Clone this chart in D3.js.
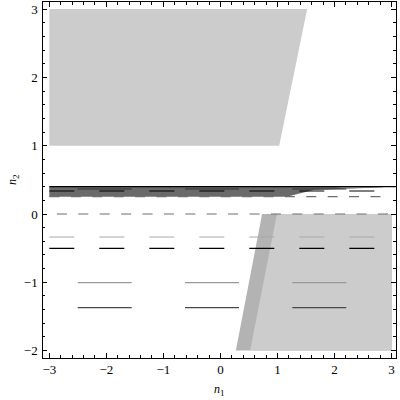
<!DOCTYPE html>
<html><head><meta charset="utf-8">
<script src="https://cdn.jsdelivr.net/npm/d3@7"></script>
<style>body{margin:0;background:#fff}</style>
</head><body>
<svg id="c" width="400" height="400"></svg>
<script>
// ---- data ----
const xTickValues = [-3, -2, -1, 0, 1, 2, 3];
const yTickValues = [-2, -1, 0, 1, 2, 3];
const xLabel = "n";
const xLabelSub = "1";
const yLabel = "n";
const yLabelSub = "2";
// filled regions (x, y) in data units
const upperRegion = [[-3, 1], [1.03, 1], [1.52, 3], [-3, 3]];
const lowerDark = [[0.27, -2], [0.73, 0], [3, 0], [3, -2]];
const lowerLight = [[0.52, -2], [0.99, 0], [3, 0], [3, -2]];
const band = [[-3, 0.253], [1.16, 0.253], [1.63, 0.35], [2.2, 0.37], [2.85, 0.393], [2.85, 0.40], [-3, 0.40]];
const bandTip = [[2.0, 0.40], [2.9, 0.40], [2.2, 0.375]];
// horizontal lines
const lineY  = [0.40, 0.366, 0.337, 0.253, 0, -0.337, -0.502, -1.006, -1.372];
const lineX0 = [-3, -3, -3, -3.13, -3, -3, -3, -3, -3];
const lineX1 = [3.08, 3, 3, 3, 3, 3, 3, 3, 3];
const lineKind = ["solid", "long", "short", "tiny", "tiny", "short", "short", "long", "long"];
const lineTone = ["black", "dark", "black", "mid", "mid", "light", "black", "grey", "dark2"];

// ---- styles ----
const tones = {black: "#000", dark: "#333", mid: "#6e6e6e", light: "#aaa", grey: "#999", dark2: "#4a4a4a"};
const dashes = {solid: null, long: ["54,53.3", 78.9], short: ["25,25", 0], tiny: ["10,11.4", 13.8]};

const svg = d3.select("#c");
const x = d3.scaleLinear().domain([-3, 3]).range([49.3, 391.6]);
const y = d3.scaleLinear().domain([-2, 3]).range([350.6, 9.1]);
const fx0 = x(-3.125), fx1 = x(3.08), fy0 = y(3.11), fy1 = y(-2.11);

const poly = d3.line().x(d => x(d[0])).y(d => y(d[1]));
const P = (pts, fill) => svg.append("path").attr("d", poly(pts) + "Z").attr("fill", fill);

P(upperRegion, "#cccccc");
P(lowerDark, "#b3b3b3");
P(lowerLight, "#cccccc");
P(band, "#6a6a6a");
P(bandTip, "#999999");

lineY.forEach((v, i) => {
  const l = svg.append("line")
    .attr("x1", x(lineX0[i])).attr("x2", x(lineX1[i]))
    .attr("y1", y(v)).attr("y2", y(v))
    .attr("stroke", tones[lineTone[i]])
    .attr("stroke-width", 1.2);
  const d = dashes[lineKind[i]];
  if (d) l.attr("stroke-dasharray", d[0]).attr("stroke-dashoffset", d[1]);
});

// ---- frame & ticks ----
const g = svg.append("g").attr("shape-rendering", "crispEdges");
g.append("rect").attr("x", fx0).attr("y", fy0).attr("width", fx1 - fx0).attr("height", fy1 - fy0)
  .attr("fill", "none").attr("stroke", "#000").attr("stroke-width", 1);

const xMinor = d3.range(-15, 16).map(k => k / 5);
const yMinor = d3.range(-10, 16).map(k => k / 5);
const isMajor = v => Math.abs(v - Math.round(v)) < 1e-6;
xMinor.forEach(v => {
  const len = isMajor(v) ? 5 : 3;
  g.append("line").attr("x1", x(v)).attr("x2", x(v)).attr("y1", fy1).attr("y2", fy1 - len).attr("stroke", "#000");
  g.append("line").attr("x1", x(v)).attr("x2", x(v)).attr("y1", fy0).attr("y2", fy0 + len).attr("stroke", "#000");
});
yMinor.forEach(v => {
  const len = isMajor(v) ? 5 : 3;
  g.append("line").attr("y1", y(v)).attr("y2", y(v)).attr("x1", fx0).attr("x2", fx0 + len).attr("stroke", "#000");
  g.append("line").attr("y1", y(v)).attr("y2", y(v)).attr("x1", fx1).attr("x2", fx1 - len).attr("stroke", "#000");
});

const fmt = v => (v < 0 ? "\u2212" : "") + Math.abs(v);
const font = "'Liberation Serif', 'Times New Roman', serif";
svg.append("g").selectAll("text").data(xTickValues).join("text")
  .attr("x", d => x(d)).attr("y", fy1 + 15.5).attr("text-anchor", "middle")
  .attr("font-family", font).attr("font-size", 13).text(fmt);
svg.append("g").selectAll("text").data(yTickValues).join("text")
  .attr("x", fx0 - 4.5).attr("y", d => y(d) + 4.5).attr("text-anchor", "end")
  .attr("font-family", font).attr("font-size", 13).text(fmt);

const xl = svg.append("text").attr("x", (fx0 + fx1) / 2).attr("y", 393).attr("text-anchor", "middle")
  .attr("font-family", font).attr("font-size", 12);
xl.append("tspan").attr("font-style", "italic").text(xLabel);
xl.append("tspan").attr("font-size", 9).attr("dy", 3).text(xLabelSub);

const yl = svg.append("text").attr("transform", `translate(16,${(fy0 + fy1) / 2}) rotate(-90)`)
  .attr("text-anchor", "middle").attr("font-family", font).attr("font-size", 12);
yl.append("tspan").attr("font-style", "italic").text(yLabel);
yl.append("tspan").attr("font-size", 9).attr("dy", 3).text(yLabelSub);
</script>
</body></html>
